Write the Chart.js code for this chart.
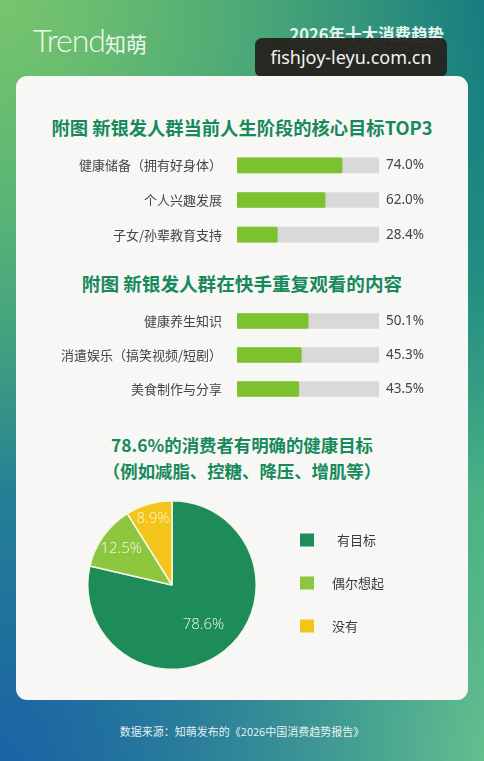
<!DOCTYPE html>
<html><head><meta charset="utf-8">
<script src="https://cdn.jsdelivr.net/npm/chart.js@4/dist/chart.umd.min.js"></script>
<style>
html,body{margin:0;padding:0;}
body{width:484px;height:761px;position:relative;overflow:hidden;font-family:"Noto Sans CJK SC","Noto Sans",sans-serif;
background:
radial-gradient(circle at 0% 0%, #78c66c 0, rgba(120,198,108,0) 55%),
radial-gradient(circle at 100% 0%, #137a80 0, rgba(19,122,128,0) 55%),
radial-gradient(circle at 0% 100%, #1a63a6 0, rgba(26,99,166,0) 60%),
radial-gradient(circle at 100% 100%, #6ccb8a 0, rgba(108,203,138,0) 55%),
#2e9c82;}
.abs{position:absolute;}
#logo{left:33px;top:19px;color:#eef7ea;font-family:"Lato","Noto Sans",sans-serif;font-weight:300;font-size:32px;letter-spacing:-1px;line-height:42px;white-space:nowrap;}
#logo span{font-family:"Noto Sans CJK SC";font-size:21px;font-weight:400;letter-spacing:0;}
#h1{right:40px;top:23px;color:#e6f4ec;font-weight:700;font-size:16.5px;line-height:22px;white-space:nowrap;}
#h2{right:40px;top:42px;color:rgba(230,244,236,0.6);font-family:"Noto Sans";font-size:9.5px;line-height:12px;white-space:nowrap;}
#wm{left:255px;top:38px;width:192px;height:39px;background:rgba(38,34,30,0.95);border-radius:7px;color:#f2f2f2;font-family:"Noto Sans";font-size:18px;line-height:39px;text-align:center;}
#card{left:16px;top:76px;width:452px;height:624px;background:#f7f7f6;border-radius:11px;}
.ttl{left:0;width:484px;text-align:center;color:#17895b;font-weight:700;white-space:nowrap;}
#t1{top:115px;font-size:18.3px;line-height:24px;}
#t2{top:271px;font-size:18.6px;line-height:24px;}
#t3{top:432px;font-size:17.4px;line-height:26px;}
#foot{left:0;width:484px;top:723px;text-align:center;color:rgba(255,255,255,0.9);font-size:11px;line-height:16px;}
canvas{position:absolute;}
</style></head>
<body>
<div id="logo" class="abs">Trend<span>知萌</span></div>
<div id="h1" class="abs">2026年十大消费趋势</div>
<div id="h2" class="abs">Top 10 Consumer Trends in 2026</div>
<div id="wm" class="abs">fishjoy-leyu.com.cn</div>
<div id="card" class="abs"></div>
<div id="t1" class="abs ttl">附图 新银发人群当前人生阶段的核心目标TOP3</div>
<div id="t2" class="abs ttl">附图 新银发人群在快手重复观看的内容</div>
<div id="t3" class="abs ttl">78.6%的消费者有明确的健康目标<br>（例如减脂、控糖、降压、增肌等）</div>
<canvas id="c1" width="484" height="104" style="left:0;top:148px;width:484px;height:104px;"></canvas>
<canvas id="c2" width="484" height="102" style="left:0;top:304px;width:484px;height:102px;"></canvas>
<canvas id="c3" width="440" height="180" style="left:20px;top:495px;width:440px;height:180px;"></canvas>
<div id="foot" class="abs">数据来源：知萌发布的《2026中国消费趋势报告》</div>
<script>
// ---- data ----
const goalLabels = ["健康储备（拥有好身体）", "个人兴趣发展", "子女/孙辈教育支持"];
const goalValues = [74.0, 62.0, 28.4];
const watchLabels = ["健康养生知识", "消遣娱乐（搞笑视频/短剧）", "美食制作与分享"];
const watchValues = [50.1, 45.3, 43.5];
const pieLabels = ["有目标", "偶尔想起", "没有"];
const pieValues = [78.6, 12.5, 8.9];
const trackMax = 100;

const CJK = '"Noto Sans CJK SC","Noto Sans",sans-serif';

function barChart(id, labels, values){
  const valueLabels = values.map(v => v.toFixed(1) + '%');
  return new Chart(document.getElementById(id), {
    type: 'bar',
    data: {
      labels: labels,
      datasets: [
        {data: values, backgroundColor: '#7cc12e', borderRadius: 1.5, borderSkipped: false, barThickness: 15, grouped: false, order: 0},
        {data: values.map(() => trackMax), backgroundColor: '#d9d9d9', borderRadius: 0, barThickness: 15, grouped: false, order: 1}
      ]
    },
    options: {
      indexAxis: 'y',
      responsive: false, animation: false, devicePixelRatio: 1,
      layout: {padding: 0, autoPadding: false},
      plugins: {legend: {display: false}, tooltip: {enabled: false}},
      scales: {
        x: {display: false, min: 0, max: trackMax},
        y: {
          position: 'left',
          grid: {display: false, drawTicks: false}, border: {display: false},
          ticks: {padding: 15, autoSkip: false, color: '#454545', font: {family: CJK, size: 13}},
          afterFit: s => { s.width = 237; s.paddingTop = 0; s.paddingBottom = 0; }
        },
        y2: {
          type: 'category', labels: valueLabels, position: 'right',
          grid: {display: false, drawTicks: false}, border: {display: false},
          ticks: {padding: 7, autoSkip: false, color: '#454545', font: {family: '"Noto Sans",sans-serif', size: 13.5}},
          afterFit: s => { s.width = 484 - 379; s.paddingTop = 0; s.paddingBottom = 0; }
        }
      }
    }
  });
}
barChart('c1', goalLabels, goalValues);
barChart('c2', watchLabels, watchValues);

const pieColors = ['#1d8c59', '#8dc63f', '#f3c41a'];
const pieTextColors = ['#d6efdf', '#eef7d8', '#fff4b8'];
const pieLabelRadius = [0.6, 0.74, 0.82];

const pieLabelPlugin = {
  id: 'pieLabels',
  afterDatasetsDraw(chart){
    const ctx = chart.ctx;
    const meta = chart.getDatasetMeta(0);
    ctx.save();
    ctx.font = '300 15px "Noto Sans",sans-serif';
    ctx.textAlign = 'center'; ctx.textBaseline = 'middle';
    meta.data.forEach((arc, i) => {
      const p = arc.getProps(['x','y','startAngle','endAngle','outerRadius'], true);
      const a = (p.startAngle + p.endAngle) / 2;
      const r = p.outerRadius * pieLabelRadius[i];
      ctx.fillStyle = pieTextColors[i];
      ctx.fillText(chart.data.datasets[0].data[i].toFixed(1) + '%', p.x + Math.cos(a) * r, p.y + Math.sin(a) * r);
    });
    // legend
    const lx = 280, ly0 = 45, gap = 43;
    chart.data.labels.forEach((lab, i) => {
      const y = ly0 + i * gap;
      ctx.fillStyle = pieColors[i];
      ctx.fillRect(lx, y - 6.5, 14, 13);
      ctx.fillStyle = '#3a3a3a';
      ctx.font = '13px ' + CJK;
      ctx.textAlign = 'left';
      ctx.fillText(lab, lx + 32 + (i === 0 ? 5 : 0), y);
    });
    ctx.restore();
  }
};

new Chart(document.getElementById('c3'), {
  type: 'pie',
  data: {labels: pieLabels, datasets: [{data: pieValues, backgroundColor: pieColors, borderColor: '#f6f6e8', borderWidth: 1.5}]},
  options: {
    responsive: false, animation: false, devicePixelRatio: 1,
    layout: {padding: {left: 67, right: 203, top: 5, bottom: 5}},
    plugins: {legend: {display: false}, tooltip: {enabled: false}}
  },
  plugins: [pieLabelPlugin]
});
</script>
</body></html>
